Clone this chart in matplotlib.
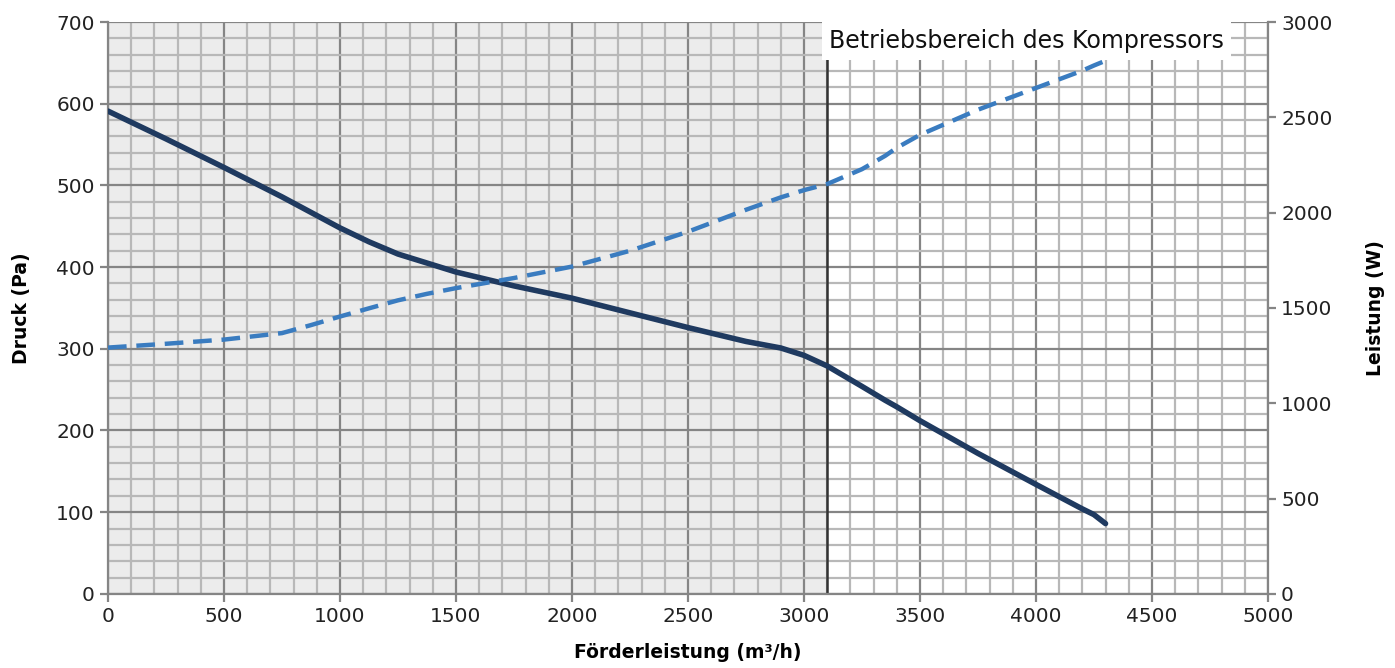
import matplotlib
matplotlib.use("Agg")
import matplotlib.pyplot as plt
from matplotlib.ticker import MultipleLocator

# Förderleistung (m³/h) sample positions
flow = [0, 250, 500, 750, 875, 1000, 1125, 1250, 1375, 1500, 1750, 2000, 2250,
        2500, 2750, 2900, 3000, 3100, 3250, 3350, 3400, 3500, 3750, 4000, 4200,
        4250, 4300]
# Druck (Pa), left axis
pressure = [591, 557, 522, 486, 467, 448, 431, 416, 405, 394, 377, 362, 344,
            326, 309, 301, 292, 279, 254, 237, 229, 212, 172, 134, 104,
            97, 86]
# Leistung (W), right axis
power = [1292, 1312, 1334, 1368, 1410, 1455, 1498, 1540, 1574, 1604, 1657, 1717,
         1800, 1900, 2015, 2080, 2118, 2150, 2228, 2298, 2340, 2408, 2540, 2654,
         2745, 2772, 2797]

operating_limit = 3100
region_label = "Betriebsbereich des Kompressors"

font = "DejaVu Sans"
plt.rcParams["font.family"] = font

fig = plt.figure(figsize=(13.95, 6.68), dpi=100)
ax = fig.add_axes([0.0774, 0.111, 0.8315, 0.856])

ax.set_xlim(0, 5000)
ax.set_ylim(0, 700)
ax.xaxis.set_major_locator(MultipleLocator(500))
ax.xaxis.set_minor_locator(MultipleLocator(100))
ax.yaxis.set_major_locator(MultipleLocator(100))
ax.yaxis.set_minor_locator(MultipleLocator(20))
ax.set_axisbelow(True)
ax.grid(which="minor", color="#b8b8b8", linewidth=1.6)
ax.grid(which="major", color="#858585", linewidth=1.6)

ax.axvspan(0, operating_limit, color="#ececec", zorder=0.1, linewidth=0)
ax.axvline(operating_limit, color="#333333", linewidth=1.8, zorder=2)

for side in ("left", "bottom"):
    ax.spines[side].set_color("#858585")
    ax.spines[side].set_linewidth(1.6)
ax.spines["top"].set_visible(False)
ax.spines["right"].set_visible(False)
ax.tick_params(which="major", direction="out", length=6, width=1.6,
               color="#858585", labelsize=14.5, labelcolor="#222222")
ax.tick_params(which="minor", length=0)

ax.plot(flow, pressure, color="#1f3a60", linewidth=4, zorder=4,
        solid_capstyle="round", solid_joinstyle="round")

ax.set_xlabel("Förderleistung (m³/h)", fontsize=13.5, fontweight="bold", labelpad=12)
ax.set_ylabel("Druck (Pa)", fontsize=13.5, fontweight="bold", labelpad=18)

ax.text(3960, 677, region_label, fontsize=17, ha="center", va="center",
        color="#111111", zorder=5, clip_on=False,
        bbox=dict(facecolor="white", edgecolor="none", pad=5))

ax2 = ax.twinx()
ax2.set_ylim(0, 3000)
ax2.yaxis.set_major_locator(MultipleLocator(500))
for side in ("left", "bottom", "top"):
    ax2.spines[side].set_visible(False)
ax2.spines["right"].set_color("#858585")
ax2.spines["right"].set_linewidth(1.6)
ax2.tick_params(direction="out", length=6, width=1.6, color="#858585",
                labelsize=14.5, labelcolor="#222222")
ax2.plot(flow, power, color="#3a7cc0", linewidth=3.2, linestyle=(0, (4.2, 2.2)),
         zorder=4)
ax2.set_ylabel("Leistung (W)", fontsize=13.5, fontweight="bold", labelpad=24)

fig.savefig("out.png", dpi=100, facecolor="white")
